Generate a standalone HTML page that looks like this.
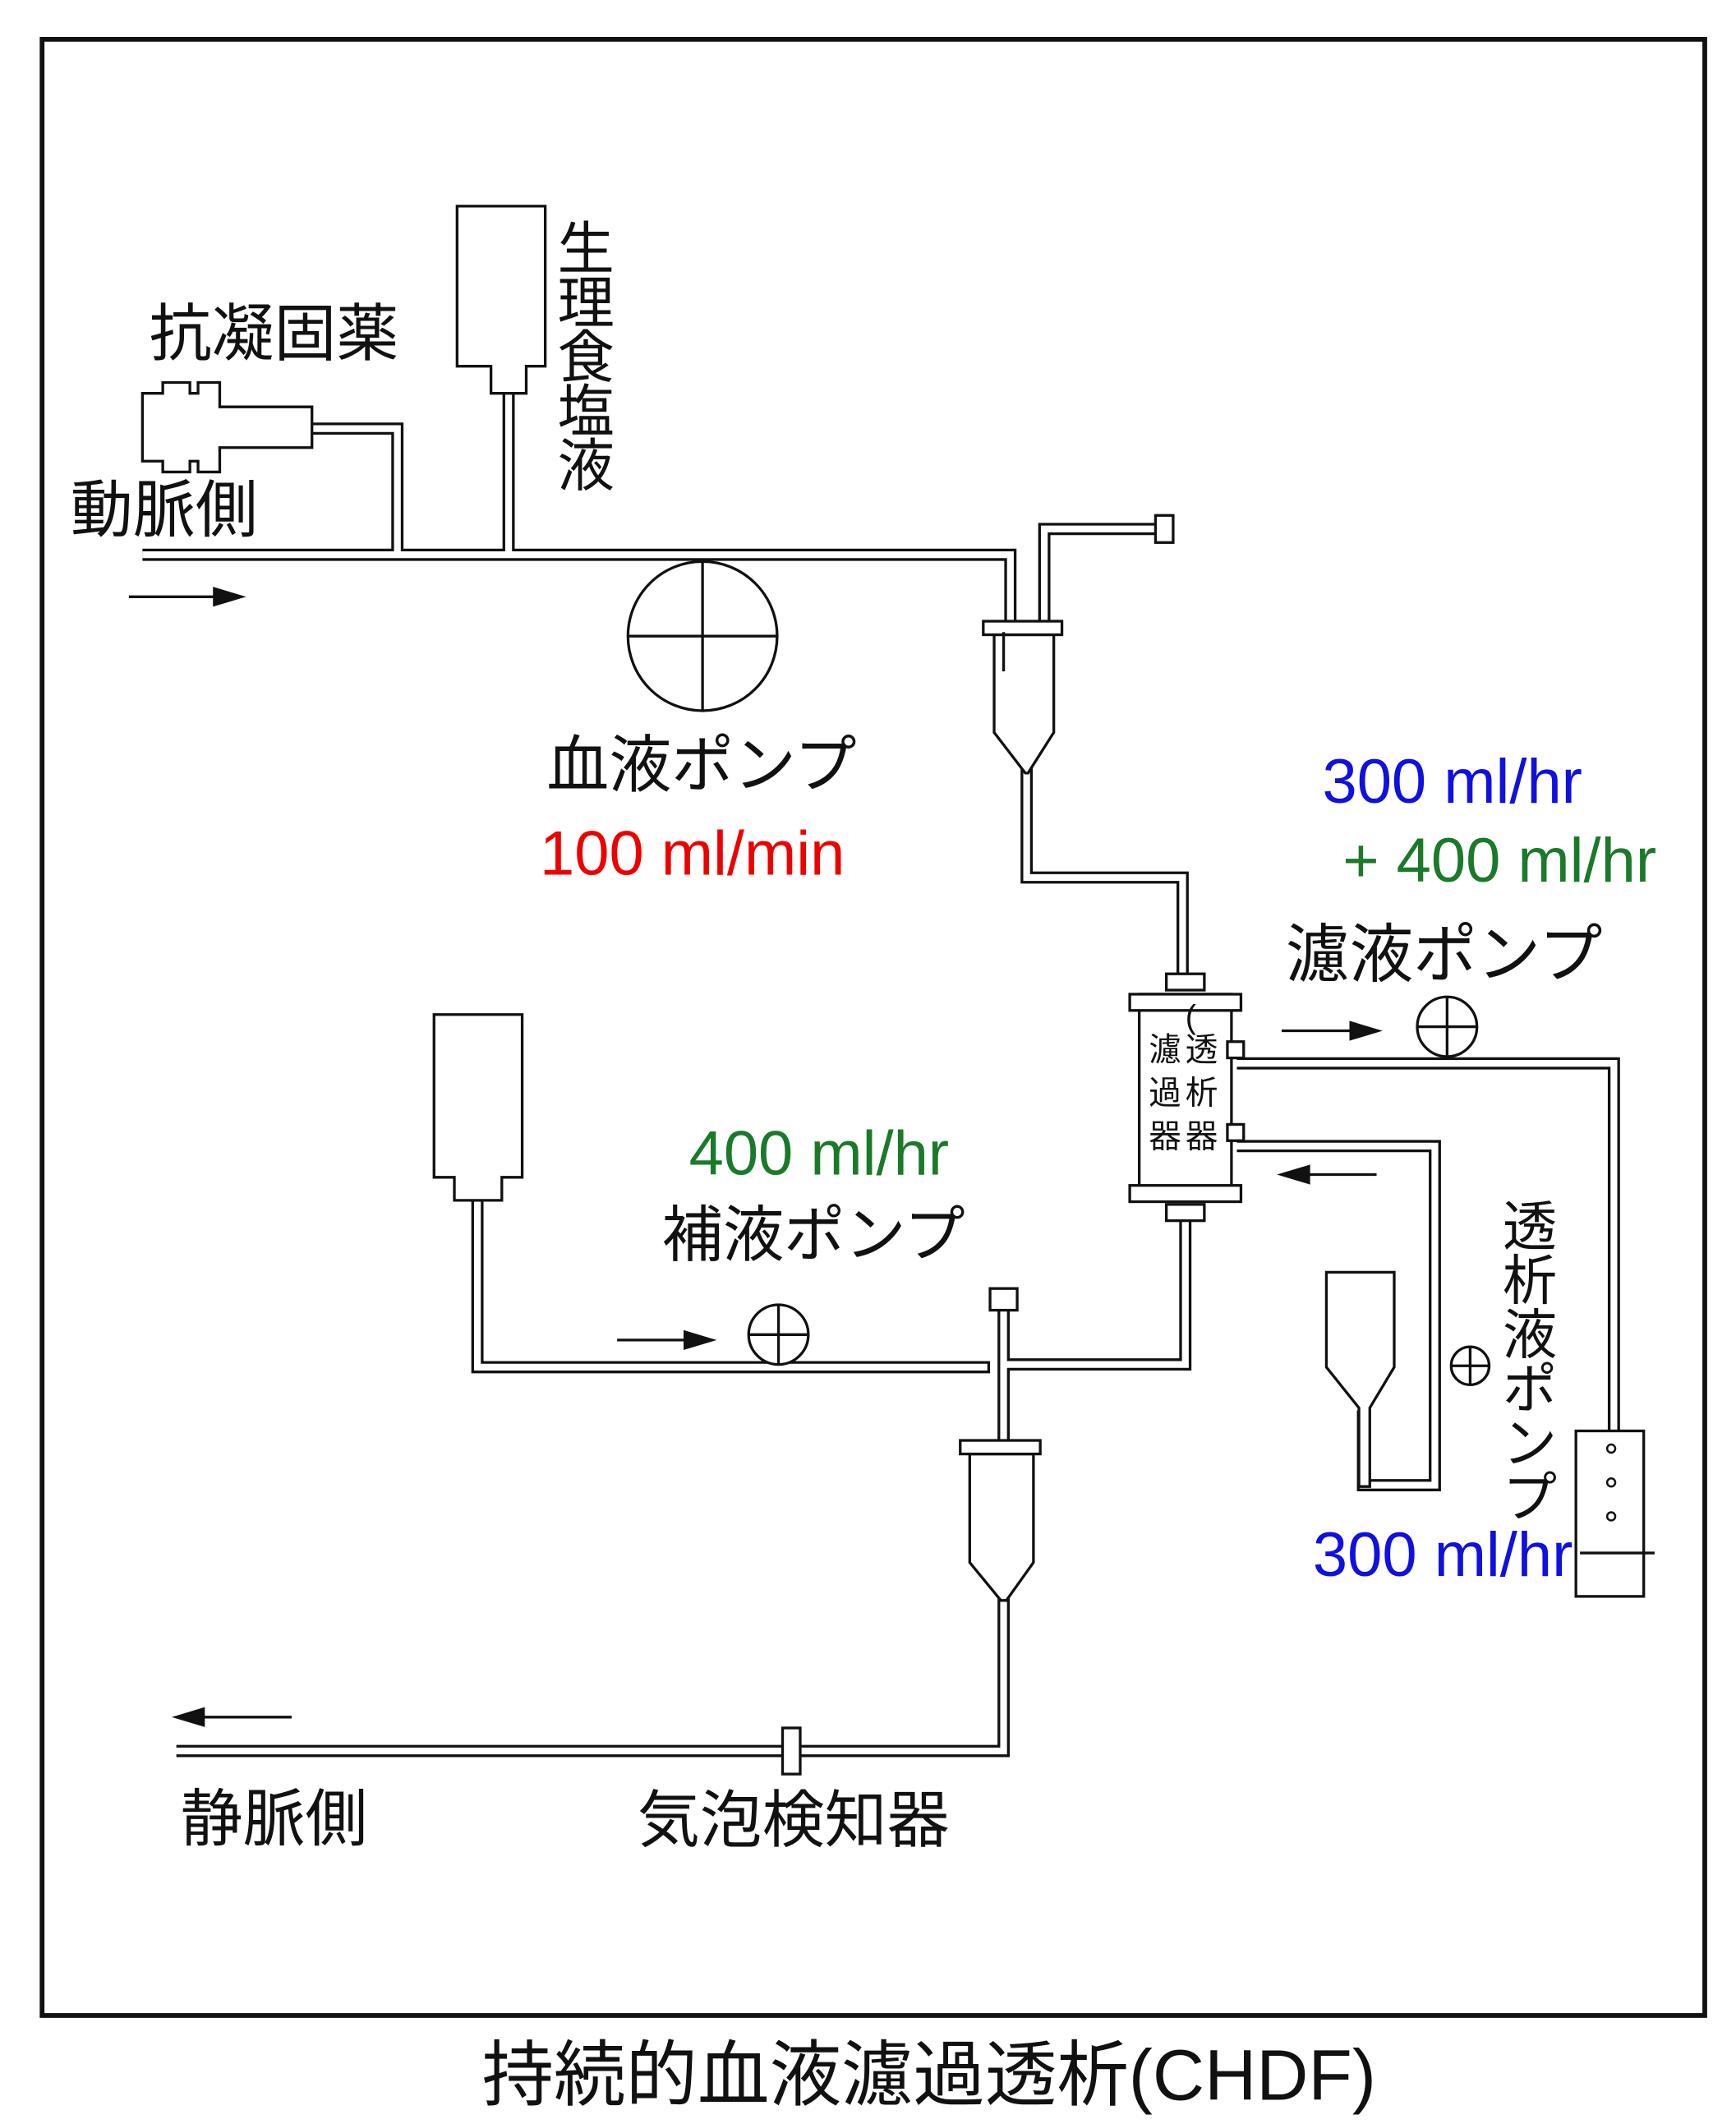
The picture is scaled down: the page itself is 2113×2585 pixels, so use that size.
<!DOCTYPE html>
<html><head><meta charset="utf-8"><style>
html,body{margin:0;padding:0;background:#fff}
svg{display:block}
text{font-family:"Liberation Sans","Noto Sans CJK JP",sans-serif;fill:#111}
</style></head><body>
<svg width="2113" height="2585" viewBox="0 0 1280 1566" xmlns="http://www.w3.org/2000/svg">
<rect x="0" y="0" width="1280" height="1566" fill="#fff"/>
<rect x="31" y="29" width="1226" height="1457" fill="none" stroke="#111" stroke-width="3.5"/>
<g fill="none" stroke-linejoin="miter">
<g stroke="#111" stroke-width="9">
<polyline points="105,409 745,409 745,490"/>
<polyline points="230,316 293,316 293,409"/>
<polyline points="375,285 375,409"/>
<polyline points="770,500 770,390 858,390"/>
<polyline points="757,565 757,647 872,647 872,722"/>
<polyline points="874,895 874,1006 740,1006"/>
<polyline points="352,880 352,1008 730,1008"/>
<polyline points="740,960 740,1068"/>
<polyline points="740,1175 740,1291 130,1291"/>
<polyline points="912,784 1190,784 1190,1150"/>
<polyline points="912,845 1058,845 1058,1095 1005,1095 1005,1040"/>
</g>
<g stroke="#fff" stroke-width="5">
<polyline points="105,409 745,409 745,490"/>
<polyline points="230,316 293,316 293,409"/>
<polyline points="375,285 375,409"/>
<polyline points="770,500 770,390 855,390"/>
<polyline points="757,565 757,647 872,647 872,725"/>
<polyline points="874,892 874,1006 742,1006"/>
<polyline points="352,880 352,1008 728,1008"/>
<polyline points="740,960 740,1070"/>
<polyline points="740,1172 740,1291 128,1291"/>
<polyline points="910,784 1190,784 1190,1150"/>
<polyline points="910,845 1058,845 1058,1095 1005,1095 1005,1038"/>
</g>
</g>
<g fill="#fff" stroke="#111" stroke-width="2">
<path d="M105,290 h15 v-8 h20 v8 h6 v-8 h16 v18 h68 v30 h-68 v18 h-16 v-8 h-6 v8 h-20 v-8 h-15 z"/>
<path d="M337,152 h65 v118 h-14 v20 h-26 v-20 h-25 z"/>
<rect x="852" y="380" width="13" height="20"/>
<path d="M733,468 h44 v72 l-19,30 l-2,0 l-23,-30 z"/>
<rect x="725" y="458" width="58" height="10"/>
<circle cx="518" cy="469" r="55"/>
<rect x="860" y="718" width="28" height="12"/>
<rect x="840" y="733" width="68" height="150"/>
<rect x="833" y="733" width="82" height="12"/>
<rect x="833" y="874" width="82" height="12"/>
<rect x="860" y="888" width="28" height="12"/>
<rect x="905" y="768" width="12" height="12"/>
<rect x="905" y="829" width="12" height="12"/>
<circle cx="1067" cy="757" r="22"/>
<circle cx="1084" cy="1007" r="14"/>
<path d="M978,938 h50 v70 l-18,30 v58 h-8 v-58 l-24,-30 z"/>
<rect x="1162" y="1055" width="50" height="122" fill="#fff"/>
<path d="M320,748 h65 v120 h-15 v17 h-35 v-17 h-15 z"/>
<circle cx="574" cy="984" r="22"/>
<rect x="730" y="950" width="20" height="16"/>
<path d="M715,1072 h47 v80 l-20,28 h-4 l-23,-28 z"/>
<rect x="708" y="1062" width="59" height="10"/>
<rect x="577" y="1274" width="13" height="34"/>
</g>
<g stroke="#111" stroke-width="2" fill="none">
<line x1="518" y1="414" x2="518" y2="524"/><line x1="463" y1="469" x2="573" y2="469"/>
<line x1="1067" y1="735" x2="1067" y2="779"/><line x1="1045" y1="757" x2="1089" y2="757"/>
<line x1="1084" y1="993" x2="1084" y2="1021"/><line x1="1070" y1="1007" x2="1098" y2="1007"/>
<line x1="574" y1="962" x2="574" y2="1006"/><line x1="552" y1="984" x2="596" y2="984"/>
<line x1="1165" y1="1145" x2="1220" y2="1145"/>
<line x1="740" y1="466" x2="740" y2="495"/>
</g>
<g fill="#fff" stroke="#111" stroke-width="1.5">
<circle cx="1188" cy="1068" r="3"/><circle cx="1188" cy="1093" r="3"/><circle cx="1188" cy="1118" r="3"/>
</g>
<g stroke="#111" stroke-width="2" fill="#111">
<line x1="95" y1="440" x2="160" y2="440"/><path d="M178,440 l-20,-6 v12 z"/>
<line x1="945" y1="760" x2="1000" y2="760"/><path d="M1016,760 l-20,-6 v12 z"/>
<line x1="962" y1="866" x2="1015" y2="866"/><path d="M945,866 l20,-6 v12 z"/>
<line x1="455" y1="988" x2="508" y2="988"/><path d="M525,988 l-20,-6 v12 z"/>
<line x1="148" y1="1266" x2="215" y2="1266"/><path d="M130,1266 l20,-6 v12 z"/>
</g>
<text x="110" y="262" font-size="46">抗凝固薬</text>
<text x="52" y="392" font-size="46">動脈側</text>
<g font-size="42">
<text x="411" y="198">生</text><text x="411" y="238">理</text><text x="411" y="278">食</text><text x="411" y="318">塩</text><text x="411" y="358">液</text>
</g>
<text x="403" y="580" font-size="46">血液ポンプ</text>
<text x="398" y="645" font-size="46" style="fill:#e00">100 ml/min</text>
<text x="975" y="592" font-size="46" style="fill:#1010e0">300 ml/hr</text>
<text x="990" y="650" font-size="46" style="fill:#1a7a2a">+ 400 ml/hr</text>
<text x="948" y="720" font-size="47">濾液ポンプ</text>
<text x="508" y="866" font-size="46" style="fill:#1a7a2a">400 ml/hr</text>
<text x="488" y="926" font-size="45">補液ポンプ</text>
<g font-size="24">
<text x="874" y="758">(</text>
<text x="874" y="782">透</text><text x="874" y="814">析</text><text x="874" y="846">器</text>
<text x="847" y="782">濾</text><text x="847" y="814">過</text><text x="847" y="846">器</text>
</g>
<g font-size="40">
<text x="1108" y="918">透</text><text x="1108" y="958">析</text><text x="1108" y="998">液</text><text x="1108" y="1038">ポ</text><text x="1108" y="1078">ン</text><text x="1108" y="1118">プ</text>
</g>
<text x="968" y="1162" font-size="46" style="fill:#1010e0">300 ml/hr</text>
<text x="133" y="1357" font-size="46">静脈側</text>
<text x="470" y="1358" font-size="46">気泡検知器</text>
<text x="685" y="1548" font-size="53" text-anchor="middle">持続的血液濾過透析(CHDF)</text>
</svg>
</body></html>
